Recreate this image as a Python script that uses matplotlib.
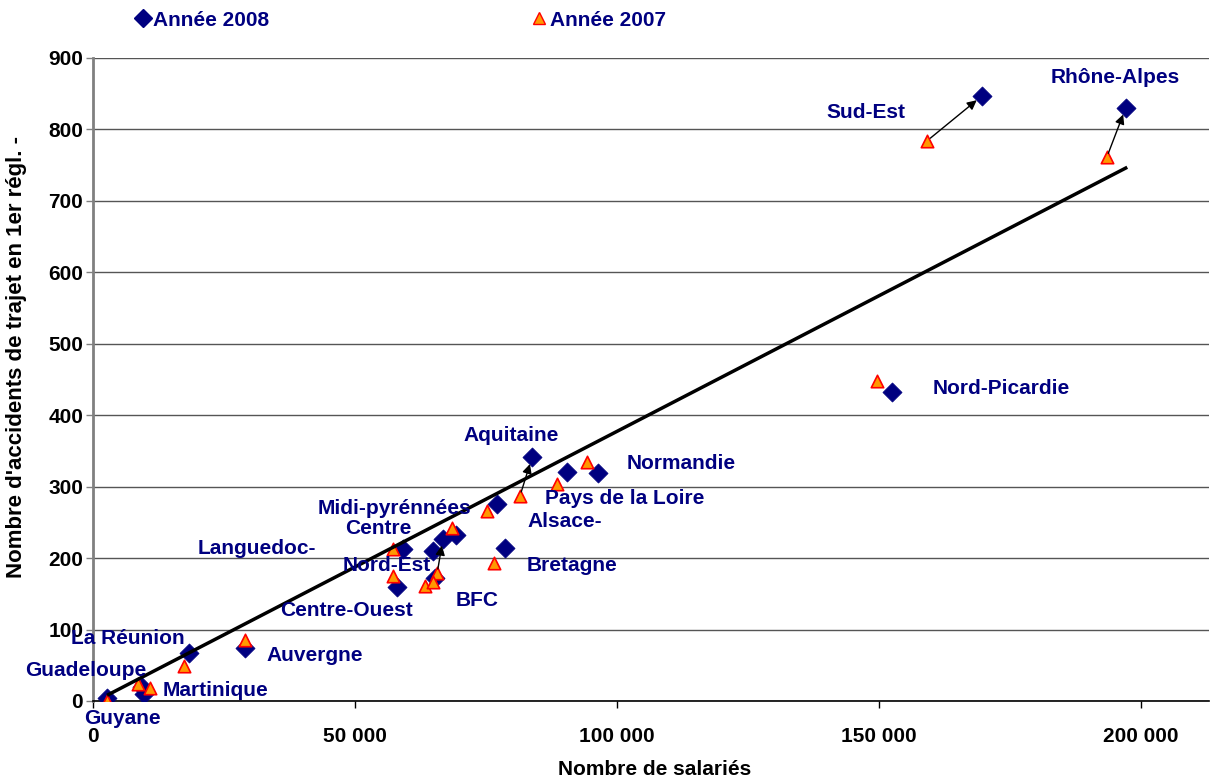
import matplotlib.pyplot as plt
from matplotlib.lines import Line2D

# --- data ---
x_2008 = [197100, 169700, 152500, 83800, 96400, 90500, 77100, 69300, 59200, 78700,
          64900, 66800, 58000, 65300, 2700, 9300, 9800, 18300, 29000]
y_2008 = [830, 847, 433, 341, 319, 321, 276, 232, 213, 214,
          210, 227, 160, 172, 4, 20, 10, 67, 74]

x_2007 = [193500, 159200, 149600, 81500, 94300, 88500, 75200, 68600, 57300, 76500,
          63400, 65700, 57300, 64900, 2700, 8600, 10900, 17400, 29000]
y_2007 = [761, 784, 448, 287, 335, 304, 266, 242, 213, 193,
          161, 179, 175, 167, 0, 24, 18, 49, 85]

# arrows drawn from the 2007 point to the 2008 point (index into the lists above)
arrow_idx = [0, 1, 3, 11]

# trend line end points
trend_x = [2700, 197400]
trend_y = [8, 747]

region_names = ['Rhône-Alpes', 'Sud-Est', 'Nord-Picardie', 'Aquitaine', 'Normandie',
                'Pays de la Loire', 'Alsace-', 'Midi-pyrénnées', 'Centre', 'Languedoc-',
                'Nord-Est', 'Bretagne', 'BFC', 'Centre-Ouest', 'La Réunion',
                'Guadeloupe', 'Martinique', 'Auvergne', 'Guyane']
# label centres
label_pos = [(195200, 873), (147500, 824), (173300, 437), (79800, 371), (112300, 333),
             (101400, 283), (90000, 251), (57500, 269), (54400, 242), (31300, 214),
             (56000, 190), (91500, 190), (73300, 140), (48300, 127), (6700, 88),
             (-1300, 42), (23300, 14), (42400, 63), (5700, -25)]

x_ticks = [0, 50000, 100000, 150000, 200000]
x_tick_labels = ['0', '50 000', '100 000', '150 000', '200 000']
y_ticks = [0, 100, 200, 300, 400, 500, 600, 700, 800, 900]

navy = '#000080'
plt.rcParams['font.family'] = ['Liberation Sans', 'DejaVu Sans']
plt.rcParams['font.weight'] = 'bold'

fig = plt.figure(figsize=(12.12, 7.80), dpi=100, facecolor='white')
ax = fig.add_axes([0.0767, 0.1013, 0.9208, 0.8244])

ax.scatter(x_2008, y_2008, s=95, marker='D', c=navy, edgecolors=navy, linewidths=0.5, zorder=3)
ax.scatter(x_2007, y_2007, s=80, marker='^', c='#FF9900', edgecolors='#FF0000', linewidths=1.2, zorder=4)
ax.plot(trend_x, trend_y, color='black', lw=2.5, zorder=5, solid_capstyle='butt')

for i in arrow_idx:
    ax.annotate('', xy=(x_2008[i], y_2008[i]), xytext=(x_2007[i], y_2007[i]),
                arrowprops=dict(arrowstyle='-|>', color='black', lw=1, mutation_scale=14,
                                shrinkA=3, shrinkB=5), zorder=6)

for name, (lx, ly) in zip(region_names, label_pos):
    ax.text(lx, ly, name, color=navy, fontsize=15, fontweight='bold', ha='center', va='center',
            clip_on=False, zorder=7)

ax.set_xlim(0, 213000)
ax.set_ylim(0, 900)
ax.set_xticks(x_ticks)
ax.set_xticklabels(x_tick_labels)
ax.set_yticks(y_ticks)
ax.grid(axis='y', color='#555555', lw=1)
ax.set_axisbelow(True)
for s in ['top', 'right']:
    ax.spines[s].set_visible(False)
ax.spines['left'].set_color('#808080')
ax.spines['left'].set_linewidth(2)
ax.spines['bottom'].set_color('black')
ax.spines['bottom'].set_linewidth(1.2)
ax.tick_params(axis='x', direction='out', length=5, width=1, pad=14, labelsize=15)
ax.tick_params(axis='y', direction='out', length=5, width=1, pad=2, labelsize=15, color='#808080')
for lab in ax.get_xticklabels() + ax.get_yticklabels():
    lab.set_fontweight('bold')

ax.set_xlabel('Nombre de salariés', fontsize=15, fontweight='bold')
ax.xaxis.set_label_coords(0.5036, -0.092)
ax.set_ylabel("Nombre d'accidents de trajet en 1er régl. -", fontsize=16, fontweight='bold')
ax.yaxis.set_label_coords(-0.0595, 0.535)

handles = [Line2D([], [], ls='none', marker='D', color=navy, markersize=9),
           Line2D([], [], ls='none', marker='^', markerfacecolor='#FF9900',
                  markeredgecolor='#FF0000', markersize=9)]
leg = fig.legend(handles, ['Année 2008', 'Année 2007'], loc='center left',
                 bbox_to_anchor=(118 / 1212, 1 - 20 / 780), ncol=2, frameon=False,
                 fontsize=15, handlelength=0.6, handletextpad=0.2, columnspacing=12.65)
for t in leg.get_texts():
    t.set_color(navy)
    t.set_fontweight('bold')

fig.savefig('out.png', dpi=100, facecolor='white')
